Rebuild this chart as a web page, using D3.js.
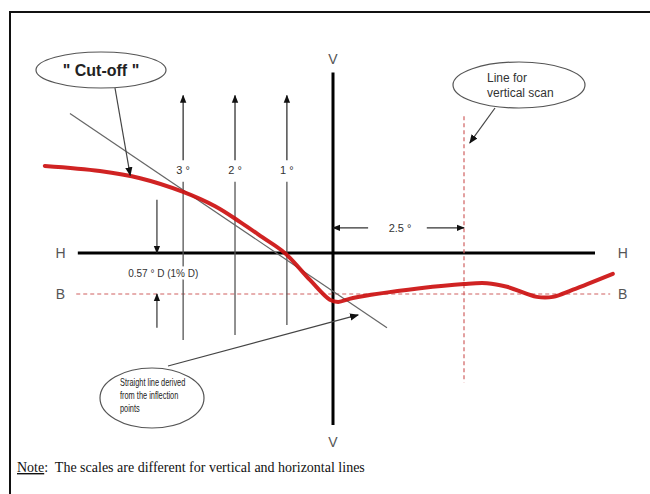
<!DOCTYPE html>
<html>
<head>
<meta charset="utf-8">
<script src="https://cdn.jsdelivr.net/npm/d3@7/dist/d3.min.js"></script>
<style>
  body { margin: 0; background: #fff; }
  text { font-family: "Liberation Sans", Arial, sans-serif; }
</style>
</head>
<body>
<svg id="chart" width="650" height="494"></svg>
<script>
// beam profile, in degrees (H angle, V angle)
const beamH = [-5.5, -4.45, -3.68, -2.86, -2.25, -1.77, -1.35, -0.92, -0.44, -0.06, 0.1, 0.38, 1.66, 2.5, 2.94, 3.32, 3.89, 4.2, 4.58, 5.34];
const beamV = [1.21, 1.14, 1.04, 0.85, 0.65, 0.43, 0.22, 0, -0.375, -0.65, -0.68, -0.625, -0.49, -0.43, -0.42, -0.47, -0.61, -0.61, -0.51, -0.29];

// straight line through the inflection points
const fitH = [-5.02, 1.03];
const fitV = [1.94, -1.04];

// vertical scans left of V
const scanH = [-2.86, -1.87, -0.88];
const scanLabels = ["3 °", "2 °", "1 °"];
const scanBottom = [-1.21, -1.14, -1.0];

const cutoffDrop = -0.57;   // B line, 0.57° D
const scanLineH = 2.5;      // line for vertical scan

const svg = d3.select('#chart');
const x = d3.scaleLinear().domain([0, 2.5]).range([333, 464]);
const y = d3.scaleLinear().domain([0, -0.57]).range([253, 294]);

// arrow heads
const defs = svg.append('defs');
function marker(id, size) {
    defs.append('marker')
        .attr('id', id)
        .attr('viewBox', '0 0 10 10')
        .attr('refX', 9).attr('refY', 5)
        .attr('markerWidth', size).attr('markerHeight', size)
        .attr('markerUnits', 'userSpaceOnUse')
        .attr('orient', 'auto')
        .append('path')
        .attr('d', 'M0,1 L10,5 L0,9 Z')
        .attr('fill', '#111');
}
marker('head', 9);
marker('headSmall', 8);

// frame
svg.append('path')
    .attr('d', 'M10,494 L10,12 L650,12')
    .attr('fill', 'none').attr('stroke', '#111').attr('stroke-width', 2);

// H and V axes
svg.append('line')
    .attr('x1', x(-4.87)).attr('x2', x(5.0))
    .attr('y1', y(0)).attr('y2', y(0))
    .attr('stroke', '#000').attr('stroke-width', 3);
svg.append('line')
    .attr('x1', x(0)).attr('x2', x(0))
    .attr('y1', y(2.51)).attr('y2', y(-2.39))
    .attr('stroke', '#000').attr('stroke-width', 3);

// B line and vertical scan line (dashed red)
svg.append('line')
    .attr('x1', x(-4.9)).attr('x2', x(5.29))
    .attr('y1', y(cutoffDrop)).attr('y2', y(cutoffDrop))
    .attr('stroke', '#d06060').attr('stroke-width', 1.2)
    .attr('stroke-dasharray', '4,3');
svg.append('line')
    .attr('x1', x(scanLineH)).attr('x2', x(scanLineH))
    .attr('y1', y(1.9)).attr('y2', y(-1.8))
    .attr('stroke', '#d06060').attr('stroke-width', 1.2)
    .attr('stroke-dasharray', '4,3');

// axis letters
const letters = [
    {t: 'V', px: x(0), py: y(2.7) },
    {t: 'V', px: x(0), py: y(-2.63) },
    {t: 'H', px: x(-5.2), py: y(0) },
    {t: 'H', px: x(5.53), py: y(0) },
    {t: 'B', px: x(-5.2), py: y(cutoffDrop) },
    {t: 'B', px: x(5.53), py: y(cutoffDrop) }
];
svg.selectAll('text.axisletter')
    .data(letters).enter().append('text')
    .attr('class', 'axisletter')
    .attr('x', d => d.px).attr('y', d => d.py)
    .attr('text-anchor', 'middle').attr('dominant-baseline', 'central')
    .attr('font-size', 14).attr('fill', '#555')
    .text(d => d.t);

// scan arrows 3°, 2°, 1°
const scans = svg.selectAll('g.scan')
    .data(scanH.map((h, i) => ({h, label: scanLabels[i], bottom: scanBottom[i]})))
    .enter().append('g').attr('class', 'scan');
scans.append('line')
    .attr('x1', d => x(d.h)).attr('x2', d => x(d.h))
    .attr('y1', y(1.29)).attr('y2', y(2.19))
    .attr('stroke', '#333').attr('stroke-width', 1.3)
    .attr('marker-end', 'url(#headSmall)');
scans.append('line')
    .attr('x1', d => x(d.h)).attr('x2', d => x(d.h))
    .attr('y1', y(0.99)).attr('y2', d => y(d.bottom))
    .attr('stroke', '#555').attr('stroke-width', 1.3);

// fitted straight line
svg.append('line')
    .attr('x1', x(fitH[0])).attr('y1', y(fitV[0]))
    .attr('x2', x(fitH[1])).attr('y2', y(fitV[1]))
    .attr('stroke', '#666').attr('stroke-width', 1.2);

scans.append('text')
    .attr('x', d => x(d.h)).attr('y', y(1.15))
    .attr('text-anchor', 'middle').attr('dominant-baseline', 'central')
    .attr('font-size', 11).attr('fill', '#333')
    .style('paint-order', 'stroke').attr('stroke', '#fff').attr('stroke-width', 4)
    .text(d => d.label);

// beam curve
const line = d3.line()
    .x((d, i) => x(beamH[i]))
    .y(d => y(d))
    .curve(d3.curveCatmullRom.alpha(0.5));
svg.append('path')
    .datum(beamV)
    .attr('d', line)
    .attr('fill', 'none')
    .attr('stroke', '#cc1010').attr('stroke-width', 4)
    .attr('stroke-linecap', 'round').attr('opacity', 0.92);

// 0.57° D dimension
svg.append('line')
    .attr('x1', x(-3.36)).attr('x2', x(-3.36))
    .attr('y1', y(0.74)).attr('y2', y(0))
    .attr('stroke', '#333').attr('stroke-width', 1.2)
    .attr('marker-end', 'url(#headSmall)');
svg.append('line')
    .attr('x1', x(-3.36)).attr('x2', x(-3.36))
    .attr('y1', y(-1.04)).attr('y2', y(cutoffDrop))
    .attr('stroke', '#333').attr('stroke-width', 1.2)
    .attr('marker-end', 'url(#headSmall)');
svg.append('text')
    .attr('x', x(-3.24)).attr('y', y(-0.28))
    .attr('text-anchor', 'middle').attr('dominant-baseline', 'central')
    .attr('font-size', 10).attr('fill', '#333')
    .style('paint-order', 'stroke').attr('stroke', '#fff').attr('stroke-width', 5)
    .text('0.57 ° D (1% D)');

// 2.5° dimension
svg.append('line')
    .attr('x1', x(0.67)).attr('x2', x(0))
    .attr('y1', y(0.35)).attr('y2', y(0.35))
    .attr('stroke', '#333').attr('stroke-width', 1.2)
    .attr('marker-end', 'url(#headSmall)');
svg.append('line')
    .attr('x1', x(1.79)).attr('x2', x(scanLineH))
    .attr('y1', y(0.35)).attr('y2', y(0.35))
    .attr('stroke', '#333').attr('stroke-width', 1.2)
    .attr('marker-end', 'url(#headSmall)');
svg.append('text')
    .attr('x', x(1.28)).attr('y', y(0.35))
    .attr('text-anchor', 'middle').attr('dominant-baseline', 'central')
    .attr('font-size', 11).attr('fill', '#333')
    .text('2.5 °');

// callouts
const callouts = [
    {cx: 101, cy: 70, rx: 65, ry: 18, from: [115, 88], to: [-3.87, 1.08]},
    {cx: 519, cy: 85, rx: 66, ry: 23, from: [495, 108], to: [2.61, 1.53]},
    {cx: 152, cy: 398, rx: 52, ry: 30, from: [168, 366], to: [0.48, -0.86]}
];
svg.selectAll('line.callout')
    .data(callouts).enter().append('line')
    .attr('class', 'callout')
    .attr('x1', d => d.from[0]).attr('y1', d => d.from[1])
    .attr('x2', d => x(d.to[0])).attr('y2', d => y(d.to[1]))
    .attr('stroke', '#444').attr('stroke-width', 1.2)
    .attr('marker-end', 'url(#head)');
svg.selectAll('ellipse.callout')
    .data(callouts).enter().append('ellipse')
    .attr('class', 'callout')
    .attr('cx', d => d.cx).attr('cy', d => d.cy)
    .attr('rx', d => d.rx).attr('ry', d => d.ry)
    .attr('fill', '#fff').attr('stroke', '#555').attr('stroke-width', 1.2);

svg.append('text')
    .attr('x', 101).attr('y', 70)
    .attr('text-anchor', 'middle').attr('dominant-baseline', 'central')
    .attr('font-size', 16).attr('font-weight', 'bold').attr('fill', '#222')
    .text('" Cut-off "');

svg.append('text')
    .attr('font-size', 12).attr('fill', '#333')
    .selectAll('tspan')
    .data(['Line for', 'vertical scan']).enter().append('tspan')
    .attr('x', 487).attr('y', (d, i) => 82 + i * 15)
    .text(d => d);

// narrow text inside the lower callout
svg.append('g')
    .attr('transform', 'translate(120,0) scale(0.74,1)')
    .append('text')
    .attr('font-size', 10).attr('fill', '#222')
    .selectAll('tspan')
    .data(['Straight line derived', 'from the inflection', 'points']).enter().append('tspan')
    .attr('x', 0).attr('y', (d, i) => 386 + i * 13)
    .text(d => d);

// note
const note = svg.append('text')
    .attr('x', 17).attr('y', 472)
    .attr('font-size', 14).attr('fill', '#111')
    .style('font-family', '"Liberation Serif", "Times New Roman", serif');
note.append('tspan').attr('text-decoration', 'underline').text('Note');
note.append('tspan').attr('xml:space', 'preserve').text(':  The scales are different for vertical and horizontal lines');
</script>
</body>
</html>
